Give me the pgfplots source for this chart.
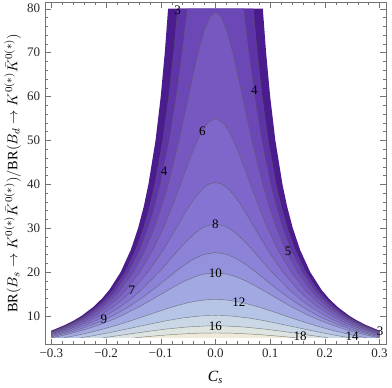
\documentclass[border=0pt]{standalone}
\usepackage{fontspec}
\setmainfont{Liberation Serif}
\usepackage{pgfplots}
\usepackage{pgfplotstable}
\pgfplotsset{compat=1.18}

% contour colours, from the lowest band (0-3) to the highest (>18)
\definecolor{c0}{RGB}{74,28,142}
\definecolor{c3}{RGB}{94,52,168}
\definecolor{c4}{RGB}{108,72,182}
\definecolor{c5}{RGB}{118,88,192}
\definecolor{c6}{RGB}{126,102,202}
\definecolor{c7}{RGB}{133,116,210}
\definecolor{c8}{RGB}{140,130,216}
\definecolor{c9}{RGB}{148,145,221}
\definecolor{c10}{RGB}{162,168,226}
\definecolor{c12}{RGB}{182,196,230}
\definecolor{c14}{RGB}{202,216,230}
\definecolor{c16}{RGB}{222,228,224}
\definecolor{c18}{RGB}{240,234,218}

% each table: two corner rows, then the contour from left to right
\pgfplotstableread{
C R
0.3 5
-0.3 5
-0.3 6.667
-0.2928 7
-0.2739 8
-0.2582 9
-0.2449 10
-0.2236 12
-0.2070 14
-0.1936 16
-0.1732 20
-0.1549 25
-0.1414 30
-0.1309 35
-0.1225 40
-0.1095 50
-0.1000 60
-0.0926 70
-0.0866 80
0.0866 80
0.0926 70
0.1000 60
0.1095 50
0.1225 40
0.1309 35
0.1414 30
0.1549 25
0.1732 20
0.1936 16
0.2070 14
0.2236 12
0.2449 10
0.2582 9
0.2739 8
0.2928 7
0.3 6.667
}\tZero

\pgfplotstableread{
C R
0.3 5
-0.3 5
-0.3 6.471
-0.2881 7
-0.2688 8
-0.2529 9
-0.2393 10
-0.2174 12
-0.2003 14
-0.1865 16
-0.1651 20
-0.1459 25
-0.1314 30
-0.1201 35
-0.1108 40
-0.0963 50
-0.0853 60
-0.0765 70
-0.0691 80
0 nan
0.0691 80
0.0765 70
0.0853 60
0.0963 50
0.1108 40
0.1201 35
0.1314 30
0.1459 25
0.1651 20
0.1865 16
0.2003 14
0.2174 12
0.2393 10
0.2529 9
0.2688 8
0.2881 7
0.3 6.471
}\tThree

\pgfplotstableread{
C R
0.3 5
-0.3 5
-0.3 6.326
-0.2844 7
-0.2649 8
-0.2486 9
-0.2348 10
-0.2125 12
-0.1950 14
-0.1807 16
-0.1586 20
-0.1384 25
-0.1231 30
-0.1109 35
-0.1008 40
-0.0846 50
-0.0718 60
-0.0610 70
-0.0515 80
0 nan
0.0515 80
0.0610 70
0.0718 60
0.0846 50
0.1008 40
0.1109 35
0.1231 30
0.1384 25
0.1586 20
0.1807 16
0.1950 14
0.2125 12
0.2348 10
0.2486 9
0.2649 8
0.2844 7
0.3 6.326
}\tFour

\pgfplotstableread{
C R
0.3 5
-0.3 5
-0.3 6.149
-0.2795 7
-0.2597 8
-0.2431 9
-0.2290 10
-0.2060 12
-0.1878 14
-0.1730 16
-0.1497 20
-0.1282 25
-0.1115 30
-0.0978 35
-0.0862 40
-0.0665 50
-0.0492 60
-0.0407 65
-0.0316 70
-0.0206 75
-0.0108 78
0 79.2
0.0108 78
0.0206 75
0.0316 70
0.0407 65
0.0492 60
0.0665 50
0.0862 40
0.0978 35
0.1115 30
0.1282 25
0.1497 20
0.1730 16
0.1878 14
0.2060 12
0.2290 10
0.2431 9
0.2597 8
0.2795 7
0.3 6.149
}\tFive

\pgfplotstableread{
C R
0.3 5
-0.3 5
-0.3 5.946
-0.2853 6.5
-0.2735 7
-0.2532 8
-0.2361 9
-0.2216 10
-0.1977 12
-0.1787 14
-0.1631 16
-0.1382 20
-0.1144 25
-0.0953 30
-0.0790 35
-0.0640 40
-0.0522 44
-0.0431 47
-0.0330 50
-0.0251 52
-0.0142 54
0 55
0.0142 54
0.0251 52
0.0330 50
0.0431 47
0.0522 44
0.0640 40
0.0790 35
0.0953 30
0.1144 25
0.1382 20
0.1631 16
0.1787 14
0.1977 12
0.2216 10
0.2361 9
0.2532 8
0.2735 7
0.2853 6.5
0.3 5.946
}\tSix

\pgfplotstableread{
C R
0.3 5
-0.3 5
-0.3 5.723
-0.2918 6
-0.2783 6.5
-0.2662 7
-0.2453 8
-0.2276 9
-0.2125 10
-0.1875 12
-0.1674 14
-0.1505 16
-0.1231 20
-0.0957 25
-0.0718 30
-0.0625 32
-0.0479 35
-0.0370 37
-0.0232 39
-0.0123 40
0 40.41
0.0123 40
0.0232 39
0.0370 37
0.0479 35
0.0625 32
0.0718 30
0.0957 25
0.1231 20
0.1505 16
0.1674 14
0.1875 12
0.2125 10
0.2276 9
0.2453 8
0.2662 7
0.2783 6.5
0.2918 6
0.3 5.723
}\tSeven

\pgfplotstableread{
C R
0.3 5
-0.3 5
-0.3 5.485
-0.2839 6
-0.2700 6.5
-0.2575 7
-0.2358 8
-0.2174 9
-0.2015 10
-0.1749 12
-0.1532 14
-0.1346 16
-0.1030 20
-0.0888 22
-0.0679 25
-0.0532 27
-0.0360 29
-0.0246 30
-0.0167 30.5
0 30.94
0.0167 30.5
0.0246 30
0.0360 29
0.0532 27
0.0679 25
0.0888 22
0.1030 20
0.1346 16
0.1532 14
0.1749 12
0.2015 10
0.2174 9
0.2358 8
0.2575 7
0.2700 6.5
0.2839 6
0.3 5.485
}\tEight

\pgfplotstableread{
C R
0.3 5
-0.3 5
-0.3 5.238
-0.2908 5.5
-0.2747 6
-0.2603 6.5
-0.2473 7
-0.2246 8
-0.2052 9
-0.1883 10
-0.1595 12
-0.1353 14
-0.1138 16
-0.0937 18
-0.0739 20
-0.0522 22
-0.0393 23
-0.0213 24
0 24.44
0.0213 24
0.0393 23
0.0522 22
0.0739 20
0.0937 18
0.1138 16
0.1353 14
0.1595 12
0.1883 10
0.2052 9
0.2246 8
0.2473 7
0.2603 6.5
0.2747 6
0.2908 5.5
0.3 5.238
}\tNine

\pgfplotstableread{
C R
0.2995 5
-0.2995 5
-0.2995 5
-0.2807 5.5
-0.2640 6
-0.2490 6.5
-0.2354 7
-0.2114 8
-0.1907 9
-0.1723 10
-0.1403 12
-0.1120 14
-0.0848 16
-0.0706 17
-0.0550 18
-0.0357 19
-0.0216 19.5
0 19.8
0.0216 19.5
0.0357 19
0.0550 18
0.0706 17
0.0848 16
0.1120 14
0.1403 12
0.1723 10
0.1907 9
0.2114 8
0.2354 7
0.2490 6.5
0.2640 6
0.2807 5.5
0.2995 5
}\tTen

\pgfplotstableread{
C R
0.2763 5
-0.2763 5
-0.2763 5
-0.2558 5.5
-0.2374 6
-0.2206 6.5
-0.2051 7
-0.1771 8
-0.1518 9
-0.1279 10
-0.1044 11
-0.0798 12
-0.0502 13
-0.0284 13.5
-0.0127 13.7
0 13.75
0.0127 13.7
0.0284 13.5
0.0502 13
0.0798 12
0.1044 11
0.1279 10
0.1518 9
0.1771 8
0.2051 7
0.2206 6.5
0.2374 6
0.2558 5.5
0.2763 5
}\tTwelve

\pgfplotstableread{
C R
0.2462 5
-0.2462 5
-0.2462 5
-0.2229 5.5
-0.2015 6
-0.1814 6.5
-0.1622 7
-0.1249 8
-0.0853 9
-0.0614 9.5
-0.0348 9.9
-0.0246 10
-0.0100 10.085
0 10.10
0.0100 10.085
0.0246 10
0.0348 9.9
0.0614 9.5
0.0853 9
0.1249 8
0.1622 7
0.1814 6.5
0.2015 6
0.2229 5.5
0.2462 5
}\tFourteen

\pgfplotstableread{
C R
0.2060 5
-0.2060 5
-0.2060 5
-0.1775 5.5
-0.1497 6
-0.1214 6.5
-0.0902 7
-0.0492 7.5
-0.0186 7.7
0 7.734
0.0186 7.7
0.0492 7.5
0.0902 7
0.1214 6.5
0.1497 6
0.1775 5.5
0.2060 5
}\tSixteen

\pgfplotstableread{
C R
0.1477 5
-0.1477 5
-0.1477 5
-0.1269 5.25
-0.1044 5.5
-0.0785 5.75
-0.0426 6
-0.0315 6.05
0 6.111
0.0315 6.05
0.0426 6
0.0785 5.75
0.1044 5.5
0.1269 5.25
0.1477 5
}\tEighteen

\begin{document}
\begin{tikzpicture}
\begin{axis}[
    width=262.5pt, height=263.25pt, scale only axis,
    xmin=-0.312, xmax=0.312, ymin=3.5, ymax=81.5,
    xtick={-0.3,-0.2,-0.1,0,0.1,0.2,0.3},
    xticklabels={−0.3,−0.2,−0.1,0.0,0.1,0.2,0.3},
    ytick={10,20,30,40,50,60,70,80},
    minor x tick num=4, minor y tick num=4,
    tick align=inside,
    major tick length=4.5pt, minor tick length=2.5pt,
    axis line style={black!55}, tick style={black!55},
    tick label style={black!85},
    /pgf/number format/assume math mode=true,
    xlabel={\textit{C\textsubscript{s}}},
    ylabel={$\mathrm{BR}(B_s\to K^{0(*)}\bar{K}^{0(*)})/\mathrm{BR}(B_d\to K^{0(*)}\bar{K}^{0(*)})$},
    ylabel style={font=\fontsize{11}{13}\selectfont, yshift=-2pt},
    xlabel style={font=\large, yshift=-3pt},
    axis on top,
    clip=false,
    cline/.style={black!65, line width=0.35pt, opacity=0.7,
        skip coords between index={0}{2}, unbounded coords=jump},
]
% filled bands, outermost first
\addplot[fill=c0, draw=none] table {\tZero};
\addplot[fill=c3, draw=none] table {\tThree};
\addplot[fill=c4, draw=none] table {\tFour};
\addplot[fill=c5, draw=none] table {\tFive};
\addplot[fill=c6, draw=none] table {\tSix};
\addplot[fill=c7, draw=none] table {\tSeven};
\addplot[fill=c8, draw=none] table {\tEight};
\addplot[fill=c9, draw=none] table {\tNine};
\addplot[fill=c10, draw=none] table {\tTen};
\addplot[fill=c12, draw=none] table {\tTwelve};
\addplot[fill=c14, draw=none] table {\tFourteen};
\addplot[fill=c16, draw=none] table {\tSixteen};
\addplot[fill=c18, draw=none] table {\tEighteen};

% contour lines
\addplot[cline] table {\tThree};
\addplot[cline] table {\tFour};
\addplot[cline] table {\tFive};
\addplot[cline] table {\tSix};
\addplot[cline] table {\tSeven};
\addplot[cline] table {\tEight};
\addplot[cline] table {\tNine};
\addplot[cline] table {\tTen};
\addplot[cline] table {\tTwelve};
\addplot[cline] table {\tFourteen};
\addplot[cline] table {\tSixteen};
\addplot[cline] table {\tEighteen};

% contour labels
\node at (axis cs:-0.069,79.6) {3};
\node at (axis cs:0.301,6.6) {3};
\node at (axis cs:-0.094,43) {4};
\node at (axis cs:0.071,61.5) {4};
\node at (axis cs:0.133,24.8) {5};
\node at (axis cs:-0.024,52) {6};
\node at (axis cs:-0.153,15.9) {7};
\node at (axis cs:0,30.8) {8};
\node at (axis cs:-0.204,9.2) {9};
\node at (axis cs:0,19.8) {10};
\node at (axis cs:0.043,13.2) {12};
\node at (axis cs:0.250,5.3) {14};
\node at (axis cs:0,7.7) {16};
\node at (axis cs:0.155,5.3) {18};
\end{axis}
\end{tikzpicture}
\end{document}
